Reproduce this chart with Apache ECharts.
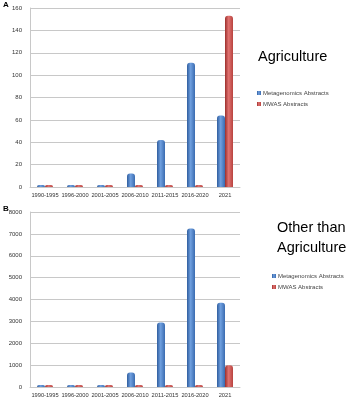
<!DOCTYPE html>
<html>
<head>
<meta charset="utf-8">
<script src="https://cdn.jsdelivr.net/npm/echarts@6/dist/echarts.min.js"></script>
<style>
  html, body { margin: 0; padding: 0; background: #fff; }
  #chart { width: 346px; height: 400px; }
</style>
</head>
<body>
<div id="chart"></div>
<script>
const periods = ['1990-1995', '1996-2000', '2001-2005', '2006-2010', '2011-2015', '2016-2020', '2021']
const agriMeta = [0.5, 0.5, 0.5, 12, 42, 111, 64]
const agriMwas = [0.5, 0.5, 0.5, 0.5, 0.5, 1.5, 153]
const otherMeta = [40, 40, 90, 660, 2950, 7250, 3850]
const otherMwas = [40, 40, 40, 40, 40, 60, 1000]
const agriTicks = [0, 160, 20]
const otherTicks = [0, 8000, 1000]
const seriesNames = ['Metagenomics Abstracts', 'MWAS Abstracts']

const cyl = (a, b, c) => ({
  type: 'linear', x: 0, y: 0, x2: 1, y2: 0,
  colorStops: [
    { offset: 0, color: a },
    { offset: 0.45, color: b },
    { offset: 1, color: c }
  ]
})
const blue = cyl('#2f5d9e', '#6f9fdf', '#3a6bb0')
const red = cyl('#9c2f2c', '#e07270', '#b8433f')

const chart = echarts.init(document.getElementById('chart'))

const grids = [
  { left: 30, right: 106, top: 8, height: 179 },
  { left: 30, right: 106, top: 212, height: 175 }
]
const xAxisFor = (gi) => ({
  type: 'category',
  gridIndex: gi,
  data: periods,
  axisLine: { show: true, lineStyle: { color: '#c8c8c8' } },
  axisTick: { show: false },
  axisLabel: { fontSize: 5.7, color: '#333', margin: 5, interval: 0 }
})
const yAxisFor = (gi, t) => ({
  type: 'value',
  gridIndex: gi,
  min: t[0], max: t[1], interval: t[2],
  axisLine: { show: true, lineStyle: { color: '#c8c8c8' } },
  axisTick: { show: false },
  splitLine: { lineStyle: { color: '#c8c8c8', width: 1 } },
  axisLabel: { fontSize: 6, color: '#333', margin: 8, formatter: (v) => String(v) }
})
const barFor = (name, gi, data, color) => ({
  name: name,
  type: 'bar',
  xAxisIndex: gi,
  yAxisIndex: gi,
  data: data,
  barWidth: 8,
  barGap: '0%',
  barMinHeight: 2,
  itemStyle: { color: color, borderRadius: [3, 3, 0, 0] }
})
const legendFor = (left, top) => ({
  left: left, top: top, padding: 0, orient: 'vertical',
  itemWidth: 4, itemHeight: 4, itemGap: 5, icon: 'rect',
  textStyle: { fontSize: 6, color: '#444', padding: [0, 0, 0, -3] },
  data: seriesNames
})

chart.setOption({
  animation: false,
  textStyle: { fontFamily: 'Liberation Sans' },
  title: [
    { text: 'A', left: 3, top: 1, padding: 0, textStyle: { fontSize: 8, fontWeight: 'bold', color: '#000' } },
    { text: 'B', left: 3, top: 205, padding: 0, textStyle: { fontSize: 8, fontWeight: 'bold', color: '#000' } },
    { text: 'Agriculture', left: 258, top: 49, padding: 0, textStyle: { fontSize: 14.5, fontWeight: 'normal', color: '#000' } },
    { text: 'Other than\nAgriculture', left: 277, top: 218, padding: 0, textStyle: { fontSize: 14.5, fontWeight: 'normal', color: '#000', lineHeight: 20 } }
  ],
  legend: [legendFor(257, 90), legendFor(272, 273)],
  color: ['#4a7ec4', '#c0504d'],
  grid: grids,
  xAxis: [xAxisFor(0), xAxisFor(1)],
  yAxis: [yAxisFor(0, agriTicks), yAxisFor(1, otherTicks)],
  series: [
    barFor(seriesNames[0], 0, agriMeta, blue),
    barFor(seriesNames[1], 0, agriMwas, red),
    barFor(seriesNames[0], 1, otherMeta, blue),
    barFor(seriesNames[1], 1, otherMwas, red)
  ]
})
</script>
</body>
</html>
